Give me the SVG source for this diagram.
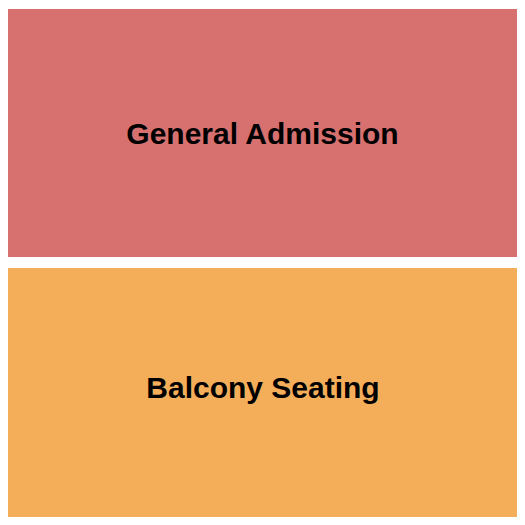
<svg xmlns="http://www.w3.org/2000/svg" width="525" height="525" viewBox="0 0 525 525">
<style>
.lbl{font-family:"Liberation Sans",Arial,sans-serif;font-weight:bold;font-size:30px;fill:#000;text-anchor:middle;dominant-baseline:central}
</style>
<rect width="525" height="525" fill="#fff"/>
<g id="general-admission">
<rect x="8" y="9" width="509" height="248" fill="#D67170"/>
<text class="lbl" x="262.5" y="133">General Admission</text>
</g>
<g id="balcony-seating">
<rect x="8" y="268" width="509" height="249" fill="#F4AE5A"/>
<text class="lbl" x="263" y="387">Balcony Seating</text>
</g>
<g id="connectors"/>
</svg>
